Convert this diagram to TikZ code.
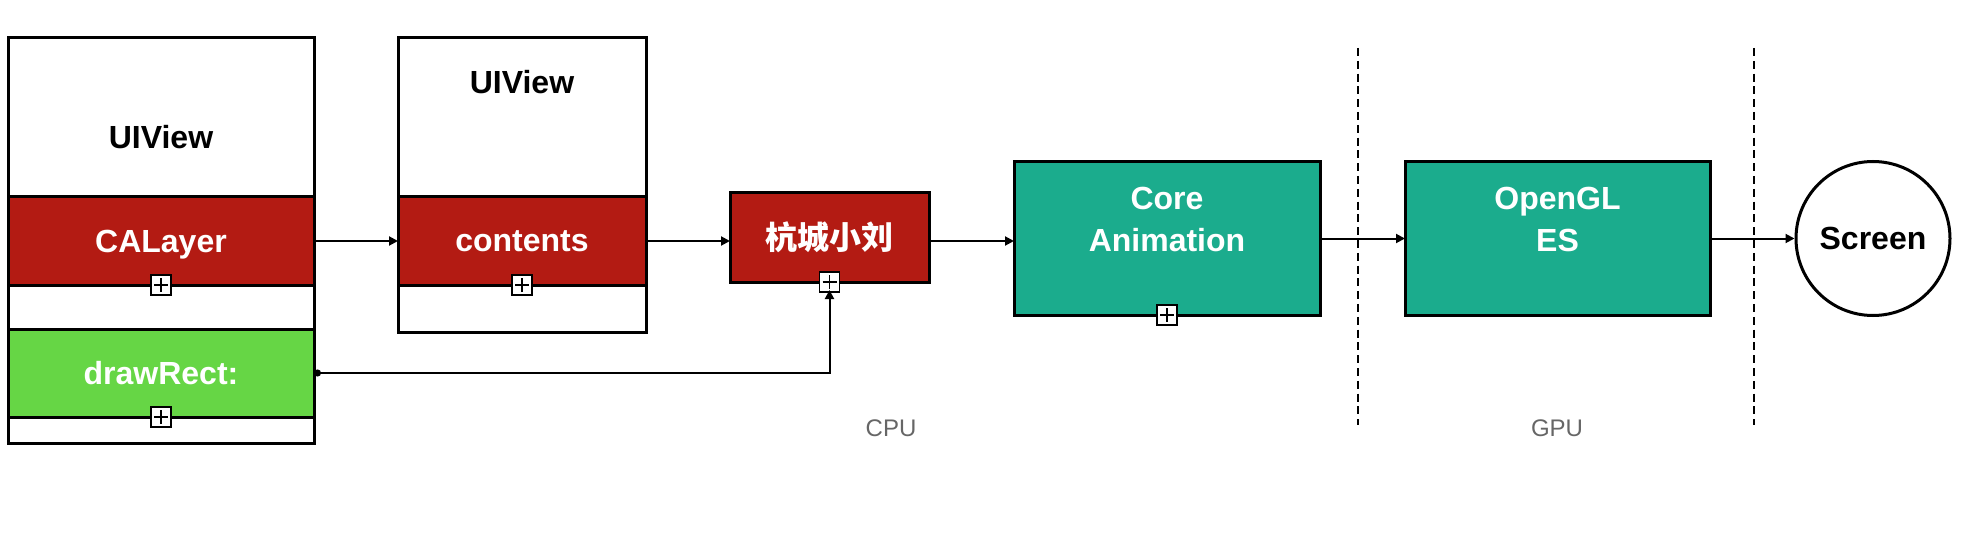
\documentclass[tikz,border=0pt]{standalone}
\usepackage{fontspec}
\setmainfont{Liberation Sans}
\newfontfamily\cjk{Noto Sans CJK SC}
\usetikzlibrary{arrows.meta}
\definecolor{cared}{HTML}{B31B13}
\definecolor{drgreen}{HTML}{66D645}
\definecolor{tealbox}{HTML}{1BAC8D}
\definecolor{labgray}{HTML}{666666}
\begin{document}
\begin{tikzpicture}[x=0.5pt,y=-0.5pt,
  frame/.style={draw, line width=1.5pt, fill=white, inner sep=0pt, outer sep=0pt},
  band/.style={frame, text=white, font=\bfseries\fontsize{16}{21}\selectfont},
  boxtext/.style={text=white, font=\bfseries\fontsize{16}{21}\selectfont, align=center, inner sep=0pt},
  title/.style={text=black, font=\bfseries\fontsize{16}{21}\selectfont, inner sep=0pt},
  zone/.style={text=labgray, font=\fontsize{12}{14}\selectfont, inner sep=0pt},
  plusbox/.style={draw, fill=white, line width=0.8pt, minimum size=10pt, inner sep=0pt,
    path picture={\draw[line width=0.8pt]
      ([yshift=-3.5pt]path picture bounding box.center) -- ([yshift=3.5pt]path picture bounding box.center)
      ([xshift=-3.5pt]path picture bounding box.center) -- ([xshift=3.5pt]path picture bounding box.center);}},
  conn/.style={line width=1pt, -{Triangle[length=4.5pt,width=4.5pt]}},
  dashline/.style={line width=1.4pt, dash pattern=on 4pt off 2.4pt}
]
\useasboundingbox (0,0) rectangle (1972,540);

% left UIView
\node[frame, minimum width=153pt, minimum height=202.5pt] (lview) at (161,240.5) {};
\node[title] (lviewt) at (161,137) {UIView};
\node[band, fill=cared, minimum width=153pt, minimum height=44pt, text depth=0pt] (calayer) at (161,241) {CALayer};
\node[band, fill=drgreen, minimum width=153pt, minimum height=44pt] (drawrect) at (161,373) {drawRect:};

% middle UIView
\node[frame, minimum width=124pt, minimum height=147pt] (mview) at (522,185) {};
\node[title] (mviewt) at (522,82) {UIView};
\node[band, fill=cared, minimum width=124pt, minimum height=44pt] (contents) at (522,241) {contents};

% hang
\node[band, fill=cared, minimum width=99.5pt, minimum height=44.5pt] (hang) at (829.5,237.5) {\cjk\bfseries 杭城小刘};

% Core Animation
\node[band, fill=tealbox, minimum width=153pt, minimum height=76.5pt] (core) at (1167,238.5) {};
\node[boxtext] (coret) at (1167,219) {Core\\Animation};

% OpenGL ES
\node[band, fill=tealbox, minimum width=152.5pt, minimum height=76.5pt] (gl) at (1557.5,238.5) {};
\node[boxtext] (glt) at (1557.5,219) {OpenGL\\ES};

% Screen
\node[draw, circle, line width=1.5pt, fill=white, minimum size=77pt, inner sep=0pt,
      font=\bfseries\fontsize{16}{21}\selectfont] (screen) at (1873,238.5) {Screen};

% zone labels
\node[zone] (cpu) at (891,428) {CPU};
\node[zone] (gpu) at (1557,428) {GPU};

% dashed separators
\coordinate (d1t) at (1358,48);
\coordinate (d1b) at (1358,425);
\coordinate (d2t) at (1754,48);
\coordinate (d2b) at (1754,425);
\draw[dashline] (d1t) -- (d1b);
\draw[dashline] (d2t) -- (d2b);

% collapse icons
\node[plusbox] (p1) at (calayer.south) {};
\node[plusbox] (p2) at (drawrect.south) {};
\node[plusbox] (p3) at (contents.south) {};
\node[plusbox] (p4) at (hang.south) {};
\node[plusbox] (p5) at (core.south) {};

% connectors
\draw[conn] (calayer.east) -- (calayer.east -| contents.west);
\draw[conn] (contents.east) -- (contents.east -| hang.west);
\draw[conn] (hang.east |- contents.east) -- (contents.east -| core.west);
\draw[conn] (core.east) -- (gl.west);
\draw[conn] (gl.east) -- (screen.west);
\draw[line width=1pt, {Circle[length=3.5pt]}-{Triangle[length=4.5pt,width=4.5pt]}]
  (drawrect.east) -| ([yshift=-4pt]hang.south);
\end{tikzpicture}
\end{document}
